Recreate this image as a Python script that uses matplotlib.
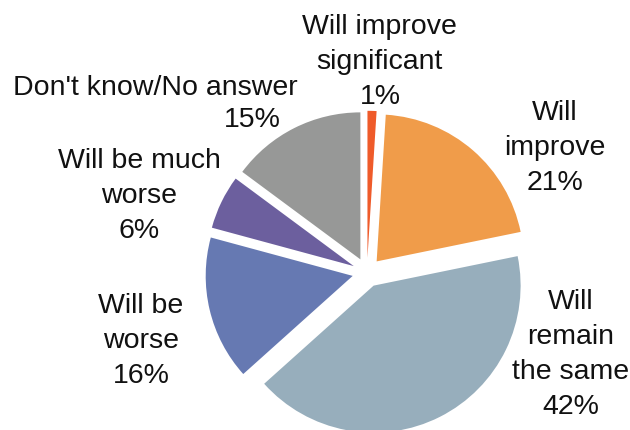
import matplotlib.pyplot as plt

# data
categories = ['Will improve\nsignificant', 'Will\nimprove', 'Will\nremain\nthe same',
              'Will be\nworse', 'Will be much\nworse', "Don't know/No answer"]
values = [1, 21, 42, 16, 6, 15]
colors = ['#EF5B2A', '#F09C4A', '#97AEBC', '#6679B2', '#6C5F9E', '#979897']

# label centres in axes fraction (name, percentage)
label_pos = [(0.603, 0.856), (0.881, 0.657), (0.906, 0.177),
             (0.224, 0.209), (0.221, 0.545), (0.246, 0.796)]
pct_pos_dontknow = (0.400, 0.722)

plt.rcParams['font.family'] = ['Liberation Sans', 'DejaVu Sans']

fig = plt.figure(figsize=(6.3, 4.31), dpi=100)
ax = fig.add_axes([0, 0, 1, 1])

wedges, _ = ax.pie(values, colors=colors, startangle=90, counterclock=False,
                   explode=[0.1] * len(values), radius=1.0,
                   wedgeprops=dict(linewidth=0))

# pie centre ~ (367, 273.5) px, radius ~147 px
r_px = 147.0
ax.set_xlim(-367 / r_px, (630 - 367) / r_px)
ax.set_ylim(-(431 - 273.5) / r_px, 273.5 / r_px)
ax.set_aspect('auto')
ax.axis('off')

for i, (name, val) in enumerate(zip(categories, values)):
    x, y = label_pos[i]
    if i == 5:
        ax.text(x, y, name, transform=ax.transAxes, ha='center', va='center',
                fontsize=20.5, color='#111111')
        ax.text(pct_pos_dontknow[0], pct_pos_dontknow[1], '%d%%' % val,
                transform=ax.transAxes, ha='center', va='center',
                fontsize=20.5, color='#111111')
    else:
        ax.text(x, y, '%s\n%d%%' % (name, val), transform=ax.transAxes,
                ha='center', va='center', multialignment='center',
                fontsize=20.5, linespacing=1.45, color='#111111')

fig.savefig('out.png', dpi=100)
